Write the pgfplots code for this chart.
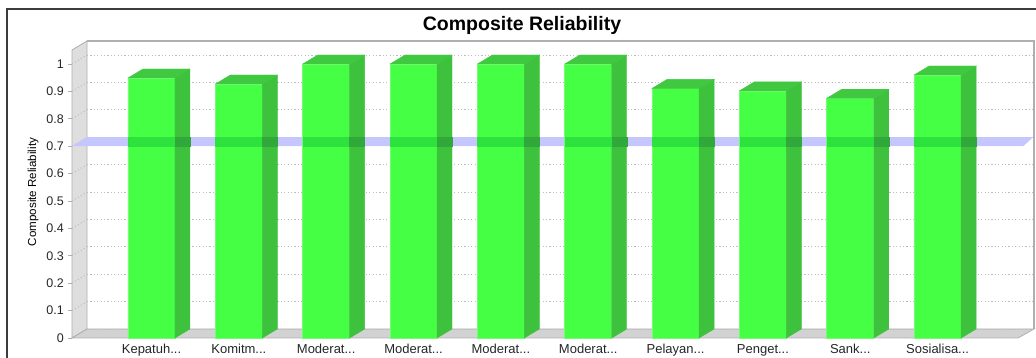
\documentclass[border=0pt]{standalone}
\usepackage{fontspec}
\setmainfont{Liberation Sans}
\usepackage{pgfplots}
\usepackage{pgfplotstable}
\pgfplotsset{compat=1.18}
\pgfdeclareplotmark{empty}{}
\newcommand{\dd}{...}
\definecolor{frontgreen}{RGB}{68,255,68}
\definecolor{frontedge}{RGB}{120,250,120}
\definecolor{sidegreen}{RGB}{62,194,62}
\definecolor{topgreen}{RGB}{64,200,64}
\definecolor{bandcol}{RGB}{198,198,255}
\definecolor{frontband}{RGB}{46,226,62}
\definecolor{sideband}{RGB}{48,168,58}
\definecolor{wallgray}{RGB}{222,222,222}
\definecolor{floorgray}{RGB}{210,210,210}
\definecolor{edgegray}{RGB}{175,175,175}
\definecolor{gridgray}{RGB}{190,190,190}
\definecolor{framegray}{RGB}{60,60,60}

\pgfplotstableread{
x v
0 0.949
1 0.927
2 1.000
3 1.000
4 1.000
5 1.000
6 0.911
7 0.902
8 0.875
9 0.960
}\crdata

\begin{document}
\begin{tikzpicture}[x=1pt,y=1pt]
\path[use as bounding box] (0,0) rectangle (1036,358);
% outer frame
\draw[framegray, line width=1.5pt] (7,0) -- (7,349) -- (1036,349);
% title
\node[font=\bfseries\fontsize{19.5}{22}\selectfont] at (522,333) {Composite Reliability};
% y label
\node[rotate=90, font=\fontsize{11.6}{13}\selectfont] at (33,166) {Composite Reliability};
% back wall frame
\draw[edgegray, line width=1.5pt] (87,317) -- (1034,317) -- (1034,29);
% left wall
\filldraw[fill=wallgray, draw=edgegray, line width=0.8pt] (72,20) -- (72,308) -- (87,317) -- (87,29) -- cycle;
% floor
\filldraw[fill=floorgray, draw=edgegray, line width=0.8pt] (72,20) -- (1018,20) -- (1034,29) -- (87,29) -- cycle;
% dotted diagonals on left wall
\foreach \v in {0.1,0.2,0.3,0.4,0.5,0.6,0.7,0.8,0.9,1.0}{
  \draw[gridgray, line width=0.9pt, dash pattern=on 1.2pt off 2.2pt] (72,{20+274*\v}) -- (87,{29+274*\v});
}
\begin{axis}[
  at={(72pt,20pt)}, anchor=south west,
  scale only axis, width=946pt, height=288pt,
  xmin=-0.91, xmax=9.92, ymin=0, ymax=1.0511,
  clip=false,
  axis line style={draw=none},
  xtick={0,1,2,3,4,5,6,7,8,9},
  xticklabels={Kepatuh\dd,Komitm\dd,Moderat\dd,Moderat\dd,Moderat\dd,Moderat\dd,Pelayan\dd,Penget\dd,Sank\dd,Sosialisa\dd},
  ytick={0,0.1,0.2,0.3,0.4,0.5,0.6,0.7,0.8,0.9,1},
  yticklabels={0,0.1,0.2,0.3,0.4,0.5,0.6,0.7,0.8,0.9,1},
  tick pos=left,
  tick align=outside,
  major tick length=4pt,
  y tick style={edgegray, line width=0.8pt},
  x tick style={draw=none},
  yticklabel style={font=\fontsize{12.5}{14}\selectfont, text=black!85, inner sep=1pt, xshift=-3pt},
  xticklabel style={font=\fontsize{13}{14}\selectfont, text=black!85, inner sep=1pt, yshift=-1pt},
  ymajorgrids=true,
  major grid style={gridgray, line width=0.9pt, dash pattern=on 1.2pt off 2.2pt, xshift=15pt, yshift=9pt},
  /pgf/number format/assume math mode=true,
]
% threshold band at 0.7 (behind the bars)
\addplot[draw=none, fill=bandcol] coordinates {(-0.91,0.7) (9.98,0.7) (10.092,0.7328) (-0.738,0.7328)} -- cycle;
% front faces
\addplot[ybar, bar width=47pt, fill=frontgreen, draw=frontedge, line width=0.6pt] table[x=x,y=v]{\crdata};
% top and side faces, with the band seen through them
\addplot[scatter, only marks, mark=empty,
  visualization depends on={\thisrow{v} \as \val},
  scatter/@pre marker code/.code={%
    \pgfmathsetlengthmacro{\hh}{\val*274pt}%
    \pgfmathsetlengthmacro{\bb}{(0.7-\val)*274pt}%
    \fill[sidegreen] (23.5pt,0pt) -- (38.5pt,9pt) -- ({38.5pt},{9pt-\hh}) -- ({23.5pt},{0pt-\hh}) -- cycle;
    \fill[topgreen] (-23.5pt,0pt) -- (23.5pt,0pt) -- (38.5pt,9pt) -- (-8.5pt,9pt) -- cycle;
    \fill[frontband] ({-23.2pt},{\bb}) rectangle ({23.5pt},{\bb+9pt});
    \fill[sideband] ({23.5pt},{\bb}) rectangle ({38.5pt},{\bb+9pt});
  },
  scatter/@post marker code/.code={}
] table[x=x,y=v]{\crdata};
\end{axis}
\end{tikzpicture}
\end{document}
